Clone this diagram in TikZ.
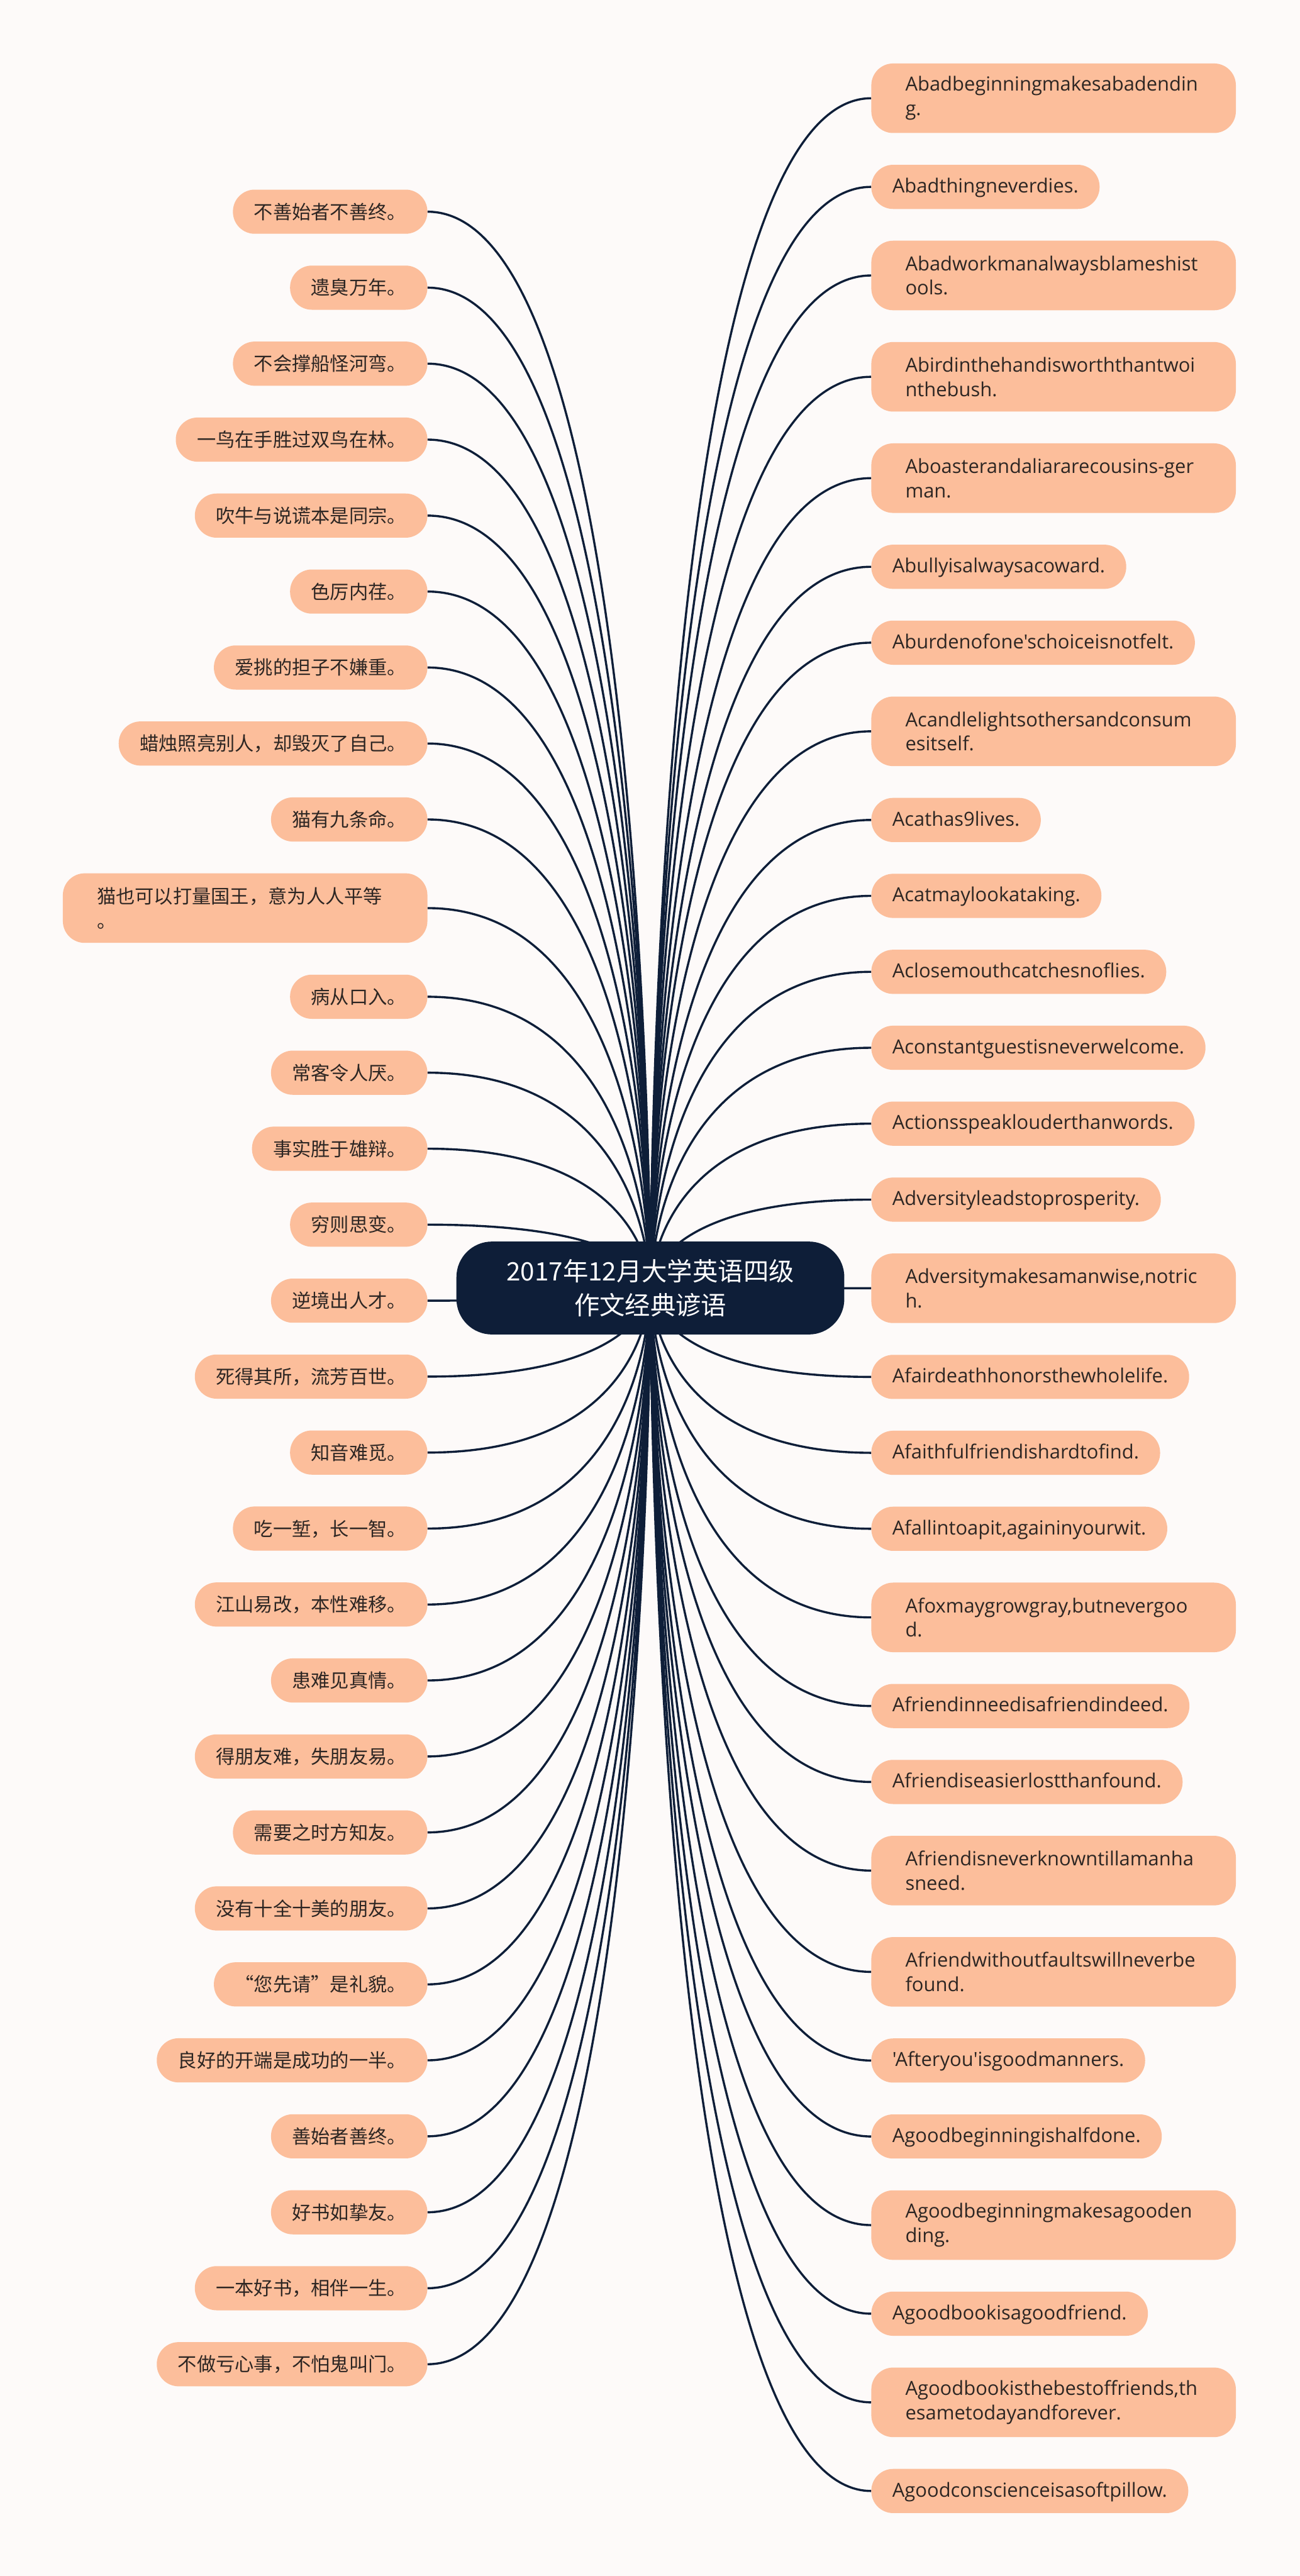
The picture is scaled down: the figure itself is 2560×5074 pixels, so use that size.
\documentclass[tikz,border=0pt]{standalone}
\usepackage{fontspec}
\setmainfont{Noto Sans CJK SC}
\newfontfamily\cjkf{Noto Sans CJK SC}
\newfontfamily\enf{Open Sans}[Ligatures=TeXOff]
\definecolor{navy}{RGB}{14,30,56}
\definecolor{peach}{RGB}{252,190,155}
\definecolor{paper}{RGB}{253,250,249}
\definecolor{ink}{RGB}{45,38,35}
\pgfdeclarelayer{back}
\pgfdeclarelayer{conns}
\pgfsetlayers{back,conns,main}
\tikzset{
  leafbase/.style={fill=peach, rounded corners=43pt, inner ysep=0pt, text=ink},
  lcn/.style={leafbase, anchor=east, minimum height=87pt, inner xsep=41.5pt,
    font=\cjkf\fontsize{37.5}{48}\selectfont, text height=33pt, text depth=4.5pt},
  lcntwo/.style={leafbase, anchor=east, minimum height=137pt, text width=584pt,
    inner xsep=67pt, align=left, font=\cjkf\fontsize{37.5}{48}\selectfont},
  ren/.style={leafbase, anchor=west, minimum height=87pt, inner xsep=41.5pt,
    font=\enf\fontsize{38.3}{48}\selectfont, text height=29pt, text depth=6pt},
  rentwo/.style={leafbase, anchor=west, minimum height=137pt, text width=584pt,
    inner xsep=67pt, align=left, font=\enf\fontsize{38.3}{48}\selectfont},
  rootbox/.style={fill=navy, text=white, rounded corners=70pt, minimum width=764pt,
    minimum height=183pt, align=center, font=\cjkf\fontsize{50}{67}\selectfont},
  conn/.style={draw=navy, line width=4.2pt}
}
\begin{document}
\begin{tikzpicture}[x=1pt, y=-1pt]
\begin{pgfonlayer}{back}
\fill[paper] (0,0) rectangle (2560,5074);
\end{pgfonlayer}
\useasboundingbox (0,0) rectangle (2560,5074);

\node[rootbox] (root) at (1281,2537) {2017年12月大学英语四级\\作文经典谚语};

% left column
\node[lcn] (L1) at (842,417.0) {不善始者不善终。};
\node[lcn] (L2) at (842,566.6) {遗臭万年。};
\node[lcn] (L3) at (842,716.3) {不会撑船怪河弯。};
\node[lcn] (L4) at (842,865.9) {一鸟在手胜过双鸟在林。};
\node[lcn] (L5) at (842,1015.6) {吹牛与说谎本是同宗。};
\node[lcn] (L6) at (842,1165.2) {色厉内荏。};
\node[lcn] (L7) at (842,1314.8) {爱挑的担子不嫌重。};
\node[lcn] (L8) at (842,1464.5) {蜡烛照亮别人，却毁灭了自己。};
\node[lcn] (L9) at (842,1614.1) {猫有九条命。};
\node[lcntwo] (L10) at (842,1788.7) {猫也可以打量国王，意为人人平等\\。};
\node[lcn] (L11) at (842,1963.3) {病从口入。};
\node[lcn] (L12) at (842,2112.9) {常客令人厌。};
\node[lcn] (L13) at (842,2262.6) {事实胜于雄辩。};
\node[lcn] (L14) at (842,2412.2) {穷则思变。};
\node[lcn] (L15) at (842,2561.9) {逆境出人才。};
\node[lcn] (L16) at (842,2711.5) {死得其所，流芳百世。};
\node[lcn] (L17) at (842,2861.1) {知音难觅。};
\node[lcn] (L18) at (842,3010.8) {吃一堑，长一智。};
\node[lcn] (L19) at (842,3160.4) {江山易改，本性难移。};
\node[lcn] (L20) at (842,3310.0) {患难见真情。};
\node[lcn] (L21) at (842,3459.7) {得朋友难，失朋友易。};
\node[lcn] (L22) at (842,3609.3) {需要之时方知友。};
\node[lcn] (L23) at (842,3759.0) {没有十全十美的朋友。};
\node[lcn] (L24) at (842,3908.6) {\makebox[1em][r]{“}您先请\makebox[1em][l]{”}是礼貌。};
\node[lcn] (L25) at (842,4058.2) {良好的开端是成功的一半。};
\node[lcn] (L26) at (842,4207.9) {善始者善终。};
\node[lcn] (L27) at (842,4357.5) {好书如挚友。};
\node[lcn] (L28) at (842,4507.1) {一本好书，相伴一生。};
\node[lcn] (L29) at (842,4656.8) {不做亏心事，不怕鬼叫门。};

% right column
\node[rentwo] (R1) at (1716,193.5) {Abadbeginningmakesabadendin\\g.};
\node[ren] (R2) at (1716,368.1) {Abadthingneverdies.};
\node[rentwo] (R3) at (1716,542.6) {Abadworkmanalwaysblameshist\\ools.};
\node[rentwo] (R4) at (1716,742.2) {Abirdinthehandisworththantwoi\\nthebush.};
\node[rentwo] (R5) at (1716,941.8) {Aboasterandaliararecousins-ger\\man.};
\node[ren] (R6) at (1716,1116.4) {Abullyisalwaysacoward.};
\node[ren] (R7) at (1716,1265.9) {Aburdenofone'schoiceisnotfelt.};
\node[rentwo] (R8) at (1716,1440.5) {Acandlelightsothersandconsum\\esitself.};
\node[ren] (R9) at (1716,1615.1) {Acathas9lives.};
\node[ren] (R10) at (1716,1764.6) {Acatmaylookataking.};
\node[ren] (R11) at (1716,1914.2) {Aclosemouthcatchesnoflies.};
\node[ren] (R12) at (1716,2063.8) {Aconstantguestisneverwelcome.};
\node[ren] (R13) at (1716,2213.3) {Actionsspeaklouderthanwords.};
\node[ren] (R14) at (1716,2362.9) {Adversityleadstoprosperity.};
\node[rentwo] (R15) at (1716,2537.5) {Adversitymakesamanwise,notric\\h.};
\node[ren] (R16) at (1716,2712.1) {Afairdeathhonorsthewholelife.};
\node[ren] (R17) at (1716,2861.6) {Afaithfulfriendishardtofind.};
\node[ren] (R18) at (1716,3011.2) {Afallintoapit,againinyourwit.};
\node[rentwo] (R19) at (1716,3185.8) {Afoxmaygrowgray,butnevergoo\\d.};
\node[ren] (R20) at (1716,3360.3) {Afriendinneedisafriendindeed.};
\node[ren] (R21) at (1716,3509.9) {Afriendiseasierlostthanfound.};
\node[rentwo] (R22) at (1716,3684.5) {Afriendisneverknowntillamanha\\sneed.};
\node[rentwo] (R23) at (1716,3884.0) {Afriendwithoutfaultswillneverbe\\found.};
\node[ren] (R24) at (1716,4058.6) {'Afteryou'isgoodmanners.};
\node[ren] (R25) at (1716,4208.2) {Agoodbeginningishalfdone.};
\node[rentwo] (R26) at (1716,4382.8) {Agoodbeginningmakesagooden\\ding.};
\node[ren] (R27) at (1716,4557.3) {Agoodbookisagoodfriend.};
\node[rentwo] (R28) at (1716,4731.9) {Agoodbookisthebestoffriends,th\\esametodayandforever.};
\node[ren] (R29) at (1716,4906.5) {Agoodconscienceisasoftpillow.};

\begin{pgfonlayer}{conns}
\foreach \i in {1,...,29} {
  \draw[conn] (L\i.east) .. controls (root.center |- L\i.east) and (root.center) .. (root.center);
  \draw[conn] (R\i.west) .. controls (root.center |- R\i.west) and (root.center) .. (root.center);
}
\end{pgfonlayer}
\end{tikzpicture}
\end{document}
